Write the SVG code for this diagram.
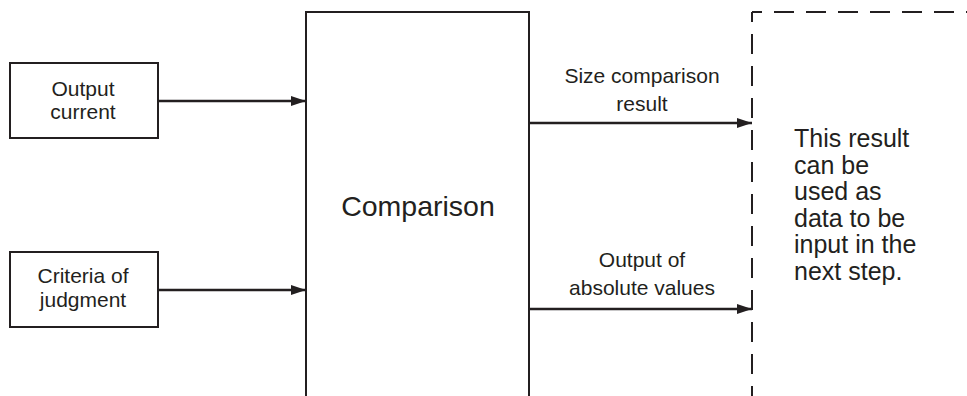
<svg xmlns="http://www.w3.org/2000/svg" width="967" height="396" viewBox="0 0 967 396">
<style>
.box{fill:#fff;stroke:#231f20;stroke-width:2}
.big{fill:none;stroke:#231f20;stroke-width:2}
.conn{stroke:#231f20;stroke-width:2.3;fill:none}
.dash{stroke:#231f20;stroke-width:2;fill:none;stroke-dasharray:20 12;stroke-dashoffset:10}
text{font-family:"Liberation Sans",Arial,sans-serif;fill:#231f20}
.lbl{font-size:21px;text-anchor:middle}
</style>
<defs>
<marker id="ah" markerWidth="15" markerHeight="11" refX="15" refY="5.5" orient="auto" markerUnits="userSpaceOnUse">
<path d="M0,0.5 L15,5.5 L0,10.5 Z" fill="#231f20"/>
</marker>
</defs>
<g id="connectors">
<line class="conn" x1="158" y1="101" x2="306" y2="101" marker-end="url(#ah)"/>
<line class="conn" x1="158" y1="290" x2="306" y2="290" marker-end="url(#ah)"/>
<line class="conn" x1="529" y1="123" x2="752" y2="123" marker-end="url(#ah)"/>
<line class="conn" x1="529" y1="309" x2="752" y2="309" marker-end="url(#ah)"/>
</g>
<g id="output-current">
<rect class="box" x="10" y="63" width="148" height="75"/>
<text class="lbl" x="83" y="95.5">Output</text>
<text class="lbl" x="83" y="119">current</text>
</g>
<g id="criteria">
<rect class="box" x="10" y="252" width="148" height="75"/>
<text class="lbl" x="83" y="283">Criteria of</text>
<text class="lbl" x="83" y="306.5">judgment</text>
</g>
<g id="comparison">
<path class="big" d="M306,400 V12 H529 V400"/>
<text x="418" y="216" font-size="28.5" text-anchor="middle">Comparison</text>
</g>
<g id="size-label">
<text class="lbl" x="642" y="82.5">Size comparison</text>
<text class="lbl" x="642" y="111">result</text>
</g>
<g id="abs-label">
<text class="lbl" x="642" y="266.5">Output of</text>
<text class="lbl" x="642" y="295">absolute values</text>
</g>
<g id="next-step">
<line class="dash" x1="752" y1="12" x2="967" y2="12"/>
<line class="dash" x1="752" y1="12" x2="752" y2="400"/>
<text x="794" y="147" font-size="25">This result</text>
<text x="794" y="173.5" font-size="25">can be</text>
<text x="794" y="200" font-size="25">used as</text>
<text x="794" y="226.5" font-size="25">data to be</text>
<text x="794" y="253" font-size="25">input in the</text>
<text x="794" y="279.5" font-size="25">next step.</text>
</g>
</svg>
